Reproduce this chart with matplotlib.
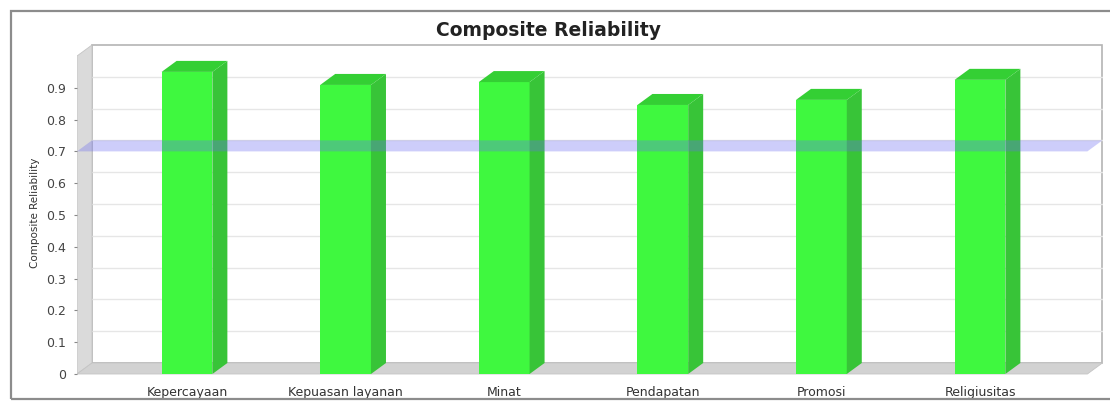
import matplotlib.pyplot as plt
from matplotlib.patches import Polygon, Rectangle
import numpy as np

constructs = ['Kepercayaan', 'Kepuasan layanan', 'Minat', 'Pendapatan',
              'Promosi', 'Religiusitas']
reliability = [0.950, 0.909, 0.918, 0.846, 0.862, 0.925]
threshold = 0.7
y_ticks = [0, 0.1, 0.2, 0.3, 0.4, 0.5, 0.6, 0.7, 0.8, 0.9]
y_max = 1.0

W, H = 1110, 401
fig = plt.figure(figsize=(W / 100, H / 100), dpi=100)
fig.patch.set_facecolor('white')

# pseudo-3d layout in pixels
px_left, px_right = 77, 1103
px_zero, unit_px = 374, 318.0      # pixels per 1.0 on the y scale
cat0_px, cat_step = 187, 158.6     # first bar centre, spacing
ylo, yhi = -0.01, 1.045
xlo = (px_left - cat0_px) / cat_step
xhi = (px_right - cat0_px) / cat_step
bot_px = px_zero - ylo * unit_px
top_px = px_zero - yhi * unit_px
ax = fig.add_axes([px_left / W, (H - bot_px) / H,
                   (px_right - px_left) / W, (bot_px - top_px) / H])
ax.set_xlim(xlo, xhi)
ax.set_ylim(ylo, yhi)
ax.patch.set_alpha(0)
for s in ax.spines.values():
    s.set_visible(False)

dx = 15 / cat_step
dy = 11 / unit_px
x0, x1 = xlo, xhi - 0.004

# back wall, left wall, floor
ax.add_patch(Rectangle((x0 + dx, dy), x1 - x0 - dx, y_max, facecolor='white',
                       edgecolor='#b4b4b4', lw=1.2, zorder=0))
for v in y_ticks[1:]:
    ax.plot([x0 + dx, x1], [v + dy, v + dy], color='#e6e6e6', lw=1.0, zorder=1)
ax.add_patch(Polygon([(x0, 0), (x0, y_max), (x0 + dx, y_max + dy), (x0 + dx, dy)],
                     closed=True, facecolor='#dadada', edgecolor='#c4c4c4',
                     lw=0.6, zorder=1))
ax.add_patch(Polygon([(x0, 0), (x0 + dx, dy), (x1, dy), (x1 - dx, 0)],
                     closed=True, facecolor='#d2d2d2', edgecolor='#c4c4c4',
                     lw=0.6, zorder=1))

# bars: front face + side and top faces
xs = np.arange(len(constructs))
bw = 0.32
ax.bar(xs, reliability, width=bw, color='#3ff83f', edgecolor='none', zorder=3)
for x, v in zip(xs, reliability):
    l, r = x - bw / 2, x + bw / 2
    ax.add_patch(Polygon([(r, 0), (r + dx, dy), (r + dx, v + dy), (r, v)],
                         closed=True, facecolor='#38c438', edgecolor='none',
                         zorder=3))
    ax.add_patch(Polygon([(l, v), (l + dx, v + dy), (r + dx, v + dy), (r, v)],
                         closed=True, facecolor='#34cf34', edgecolor='none',
                         zorder=3))

# threshold plane
ax.add_patch(Polygon([(x0, threshold), (x0 + dx, threshold + dy),
                      (x1, threshold + dy), (x1 - dx, threshold)],
                     closed=True, facecolor='#6a6af0', alpha=0.33,
                     edgecolor='none', zorder=4))

ax.set_yticks(y_ticks)
ax.set_yticklabels(['0' if t == 0 else f'{t:.1f}' for t in y_ticks])
ax.set_xticks(xs)
ax.set_xticklabels(constructs)
ax.tick_params(axis='y', length=2, width=0.8, color='#888888', pad=6,
               labelsize=9, labelcolor='#444444')
ax.tick_params(axis='x', length=0, pad=6, labelsize=9, labelcolor='#333333')

fig.text(35 / W, 1 - 213 / H, 'Composite Reliability', rotation=90,
         ha='center', va='center', fontsize=7.5, color='#333333')
fig.text(548 / W, 1 - 30 / H, 'Composite Reliability', ha='center',
         va='center', fontsize=13.5, fontweight='bold', color='#222222')

# outer frame
fig.patches.append(Rectangle((11 / W, 2 / H), 1.0, (H - 13) / H,
                             transform=fig.transFigure, facecolor='none',
                             edgecolor='#8c8c8c', lw=1.6))

fig.savefig('out.png', dpi=100)
